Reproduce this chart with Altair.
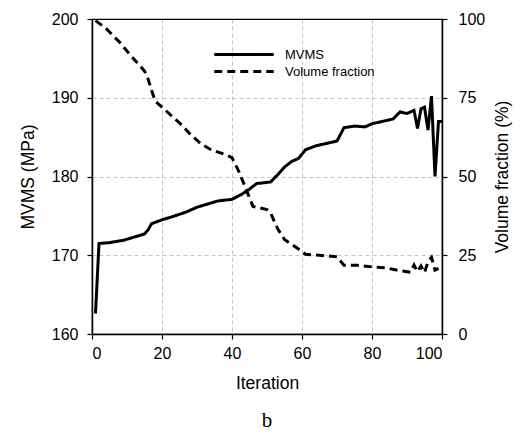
import altair as alt
import pandas as pd

# MVMS (MPa) vs iteration (solid line)
iter_mvms = [1, 2, 5, 9, 12, 15, 16, 17, 20, 23, 27, 30, 33, 36, 40, 43, 45, 47, 51, 53,
             55, 57, 59, 61, 64, 67, 70, 72, 75, 78, 80, 83, 86, 88, 90, 92, 93, 94, 95, 96,
             97, 98, 99, 100]
mvms = [162.6, 171.5, 171.6, 171.9, 172.3, 172.7, 173.2, 174.0, 174.5, 174.9,
        175.5, 176.1, 176.5, 176.9, 177.1, 177.8, 178.4, 179.1, 179.3, 180.2,
        181.2, 181.9, 182.3, 183.4, 183.9, 184.2, 184.5, 186.2, 186.4, 186.3,
        186.7, 187.0, 187.3, 188.2, 188.0, 188.4, 186.1, 188.6, 188.8, 185.9,
        190.2, 180.0, 187.0, 187.0]

# Volume fraction (%) vs iteration (dashed line)
iter_vf = [1, 4, 8, 11, 13, 15, 16, 18, 20, 23, 26, 28, 31, 34, 38, 40, 42, 44, 46, 50,
           51, 53, 55, 57, 59, 61, 65, 70, 72, 76, 80, 84, 87, 91, 92, 93, 94, 95, 96, 97,
           98, 99]
vf = [99.5, 97, 92.5, 88.5, 86, 83.5, 81, 74, 72, 69,
      66, 63.5, 60.5, 58.5, 57, 56, 51.5, 46, 40.5, 39.5,
      38.5, 33.5, 30, 28.5, 27, 25.3, 25, 24.5, 21.8, 21.8,
      21.3, 21, 20.3, 19.6, 21.9, 19.8, 21.6, 19.5, 23, 24.3,
      20.3, 20.8]

series_names = ["MVMS", "Volume fraction"]
x_ticks = [0, 20, 40, 60, 80, 100]
left_ticks = [160, 170, 180, 190, 200]
right_ticks = [0, 25, 50, 75, 100]

df_m = pd.DataFrame({"Iteration": iter_mvms, "value": mvms, "series": series_names[0]})
df_v = pd.DataFrame({"Iteration": iter_vf, "value": vf, "series": series_names[1]})

FONT = "Liberation Sans"

dash = alt.StrokeDash(
    "series:N",
    scale=alt.Scale(domain=series_names, range=[[1, 0], [8, 5]]),
    legend=alt.Legend(
        title=None, orient="none", legendX=142, legendY=25.5,
        symbolType="M-3.5,0H3.5", symbolSize=289, symbolStrokeWidth=3,
        symbolStrokeColor="black", labelOffset=31, rowPadding=0,
        labelFont=FONT, labelFontSize=13, labelColor="black",
    ),
)

x_enc = alt.X(
    "Iteration:Q",
    scale=alt.Scale(domain=[0, 100], nice=False),
    axis=alt.Axis(values=x_ticks, title="Iteration", grid=True,
                  labelPadding=6, titlePadding=13),
)

left = alt.Chart(df_m).mark_line(color="black", strokeWidth=3).encode(
    x=x_enc,
    y=alt.Y("value:Q", scale=alt.Scale(domain=[160, 200], nice=False),
            axis=alt.Axis(values=left_ticks, title="MVMS (MPa)", orient="left",
                          grid=True, labelPadding=9, titlePadding=14,
                          gridColor={"expr": "datum.value === 200 ? 'black' : '#c4c4c4'"},
                          gridDash={"expr": "datum.value === 200 ? [] : [4, 3]"})),
    strokeDash=dash,
)

right = alt.Chart(df_v).mark_line(color="black", strokeWidth=3).encode(
    x=x_enc,
    y=alt.Y("value:Q", scale=alt.Scale(domain=[0, 100], nice=False),
            axis=alt.Axis(values=right_ticks, title="Volume fraction (%)", orient="right",
                          grid=False, labelPadding=11, titlePadding=9,
                          titleAngle=270, titleBaseline="top")),
    strokeDash=dash,
)

chart = (
    alt.layer(left, right)
    .resolve_scale(y="independent")
    .properties(
        width=350, height=315,
        autosize=alt.AutoSizeParams(type="none"),
        padding={"left": 84, "top": 11, "right": 71, "bottom": 96},
        title=alt.TitleParams("b", orient="bottom", font="Liberation Serif", fontSize=21,
                              fontWeight="normal", color="black", offset=18, anchor="middle"),
    )
    .configure_view(stroke="black", strokeWidth=1.2)
    .configure_axis(
        labelFont=FONT, labelFontSize=16, labelColor="black",
        titleFont=FONT, titleFontSize=17.5, titleFontWeight="normal", titleColor="black",
        domainColor="black", domainWidth=1.5, tickColor="black", tickSize=5, tickWidth=1.2,
        gridColor="#c4c4c4", gridDash=[4, 3], gridWidth=1,
    )
)

chart.save("out.html", embed_options={"renderer": "svg", "actions": False})
